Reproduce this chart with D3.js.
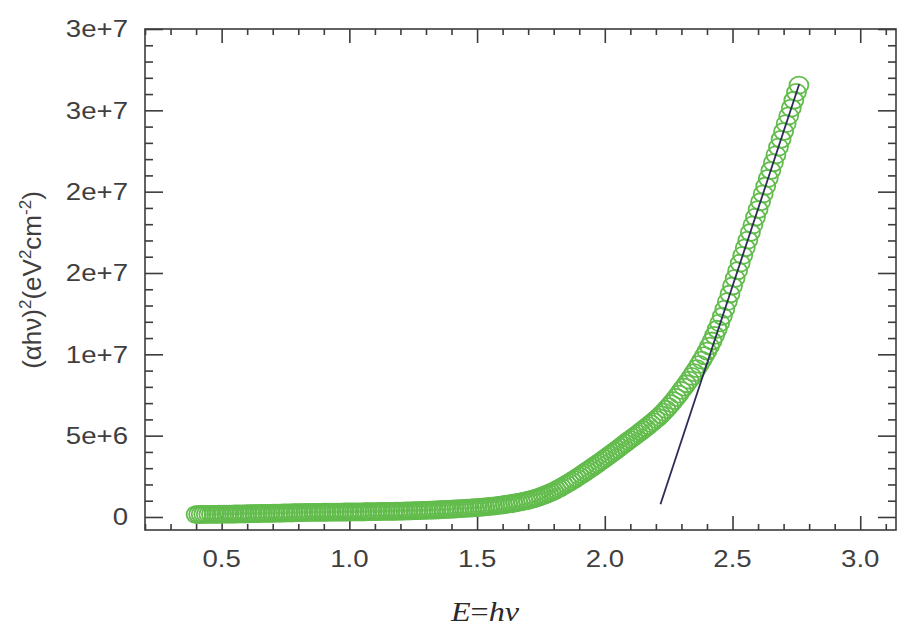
<!DOCTYPE html>
<html>
<head>
<meta charset="utf-8">
<script src="https://cdn.jsdelivr.net/npm/d3@7"></script>
<style>
    body { margin: 0; background: #fff; }
</style>
</head>
<body>
<svg id="chart"></svg>
<script>
// Photon energy grid in eV, one sample every 0.01 eV from 0.40 to 2.76
const energy = d3.range(40, 277).map(i => i / 100);

// (alpha*h*nu)^2, in units of 1e6 eV^2 cm^-2 (one per energy)
const alphaSq = [
    0.150, 0.152, 0.154, 0.156, 0.158, 0.160, 0.162, 0.164, 0.166, 0.168,
    0.170, 0.173, 0.176, 0.179, 0.182, 0.185, 0.188, 0.191, 0.194, 0.197,
    0.200, 0.203, 0.206, 0.209, 0.212, 0.215, 0.218, 0.221, 0.224, 0.227,
    0.230, 0.234, 0.238, 0.242, 0.246, 0.250, 0.254, 0.258, 0.262, 0.266,
    0.270, 0.272, 0.274, 0.276, 0.278, 0.280, 0.282, 0.284, 0.286, 0.288,
    0.290, 0.292, 0.294, 0.296, 0.298, 0.300, 0.302, 0.304, 0.306, 0.308,
    0.310, 0.312, 0.314, 0.316, 0.318, 0.320, 0.322, 0.324, 0.326, 0.328,
    0.330, 0.333, 0.336, 0.339, 0.342, 0.345, 0.348, 0.351, 0.354, 0.357,
    0.360, 0.365, 0.370, 0.375, 0.380, 0.385, 0.390, 0.395, 0.400, 0.405,
    0.410, 0.417, 0.424, 0.431, 0.438, 0.445, 0.452, 0.459, 0.466, 0.473,
    0.480, 0.490, 0.500, 0.510, 0.520, 0.530, 0.540, 0.550, 0.560, 0.570,
    0.580, 0.592, 0.605, 0.619, 0.634, 0.650, 0.667, 0.685, 0.704, 0.724,
    0.745, 0.768, 0.792, 0.817, 0.843, 0.870, 0.898, 0.928, 0.960, 0.993,
    1.029, 1.069, 1.112, 1.159, 1.209, 1.263, 1.321, 1.383, 1.449, 1.519,
    1.593, 1.671, 1.753, 1.838, 1.926, 2.017, 2.111, 2.208, 2.307, 2.408,
    2.511, 2.615, 2.720, 2.826, 2.933, 3.041, 3.150, 3.260, 3.371, 3.483,
    3.596, 3.710, 3.825, 3.941, 4.058, 4.176, 4.295, 4.415, 4.536, 4.658,
    4.773, 4.889, 5.006, 5.124, 5.243, 5.364, 5.487, 5.612, 5.739, 5.868,
    5.998, 6.130, 6.285, 6.445, 6.613, 6.788, 6.968, 7.156, 7.351, 7.556,
    7.780, 7.980, 8.190, 8.410, 8.640, 8.880, 9.125, 9.380, 9.645, 9.915,
    10.20, 10.50, 10.82, 11.17, 11.54, 11.93, 12.34, 12.78, 13.24, 13.71,
    14.20, 14.67, 15.14, 15.61, 16.08, 16.55, 17.02, 17.49, 17.96, 18.43,
    18.90, 19.38, 19.86, 20.34, 20.82, 21.30, 21.78, 22.26, 22.74, 23.22,
    23.70, 24.18, 24.66, 25.14, 25.62, 26.10, 26.55
];

// Linear fit drawn over the steep part, [energy, value]
const fitLine = [[2.218, 0.78], [2.761, 26.6]];

// Tick values and the labels exactly as printed on the original
const xMajor = [0.5, 1.0, 1.5, 2.0, 2.5, 3.0];
const xTickLabels = ["0.5", "1.0", "1.5", "2.0", "2.5", "3.0"];
const yMajor = [0, 5, 10, 15, 20, 25, 30];
const yTickLabels = ["0", "5e+6", "1e+7", "2e+7", "2e+7", "3e+7", "3e+7"];

const width = 903;
const height = 628;
const margin = { top: 29, right: 7, bottom: 98, left: 145 };
const plotW = width - margin.left - margin.right;
const plotH = height - margin.top - margin.bottom;

const axisColour = "#3c3c3c";
const textColour = "#3f3f3f";
const pointColour = "#62bc4c";

const svg = d3.select("#chart")
    .attr("width", width)
    .attr("height", height);

const g = svg.append("g")
    .attr("transform", `translate(${margin.left}, ${margin.top})`);

// Scales
const xScale = d3.scaleLinear().domain([0.2, 3.14]).range([0, plotW]);
const yScale = d3.scaleLinear().domain([-0.8, 30]).range([plotH, 0]);

// Minor ticks every 0.1 eV and every 1e6
const xMinor = d3.range(2, 32).map(i => i / 10).filter(v => !xMajor.some(m => Math.abs(m - v) < 1e-9));
const yMinor = d3.range(0, 30).filter(v => v % 5 !== 0);

// Ticks point inwards on all four sides (frame style)
function tickAxis(axisFn, scale, values, size, transform) {
    const a = g.append("g")
        .attr("transform", transform)
        .call(axisFn(scale).tickValues(values).tickSize(-size).tickFormat(""));
    a.select(".domain").remove();
    a.selectAll("line").attr("stroke", axisColour).attr("stroke-width", 1.6);
    a.selectAll("text").remove();
}

tickAxis(d3.axisBottom, xScale, xMajor, 14, `translate(0, ${plotH})`);
tickAxis(d3.axisBottom, xScale, xMinor, 6, `translate(0, ${plotH})`);
tickAxis(d3.axisTop, xScale, xMajor, 14, "translate(0, 0)");
tickAxis(d3.axisTop, xScale, xMinor, 6, "translate(0, 0)");
tickAxis(d3.axisLeft, yScale, yMajor, 18, "translate(0, 0)");
tickAxis(d3.axisLeft, yScale, yMinor, 8, "translate(0, 0)");
tickAxis(d3.axisRight, yScale, yMajor, 18, `translate(${plotW}, 0)`);
tickAxis(d3.axisRight, yScale, yMinor, 8, `translate(${plotW}, 0)`);

// Frame
g.append("rect")
    .attr("x", 0)
    .attr("y", 0)
    .attr("width", plotW)
    .attr("height", plotH)
    .attr("fill", "none")
    .attr("stroke", axisColour)
    .attr("stroke-width", 1.6);

// Tick labels (the original is slightly stretched sideways)
const stretch = 1.2;

g.selectAll("text.xTick")
    .data(xMajor)
    .join("text")
    .attr("class", "xTick")
    .attr("transform", d => `translate(${xScale(d)}, ${plotH + 37}) scale(${stretch}, 1)`)
    .attr("text-anchor", "middle")
    .style("font-family", "'Liberation Sans', Arial, sans-serif")
    .style("font-size", "23px")
    .attr("fill", textColour)
    .text((d, i) => xTickLabels[i]);

g.selectAll("text.yTick")
    .data(yMajor)
    .join("text")
    .attr("class", "yTick")
    .attr("transform", d => `translate(-17, ${yScale(d)}) scale(${stretch}, 1)`)
    .attr("text-anchor", "end")
    .attr("dy", "0.36em")
    .style("font-family", "'Liberation Sans', Arial, sans-serif")
    .style("font-size", "23px")
    .attr("fill", textColour)
    .text((d, i) => yTickLabels[i]);

// Data points: open circles (a little wider than tall, like the original)
const points = energy.map((e, i) => [e, alphaSq[i]]);

g.append("g")
    .selectAll("ellipse")
    .data(points)
    .join("ellipse")
    .attr("cx", d => xScale(d[0]))
    .attr("cy", d => yScale(d[1]))
    .attr("rx", 9.5)
    .attr("ry", 8.5)
    .attr("fill", "none")
    .attr("stroke", pointColour)
    .attr("stroke-width", 1.8);

// Fit line
const lineGenerator = d3.line()
    .x(d => xScale(d[0]))
    .y(d => yScale(d[1]));

g.append("path")
    .datum(fitLine)
    .attr("d", lineGenerator)
    .attr("fill", "none")
    .attr("stroke", "#2c2c58")
    .attr("stroke-width", 1.8);

// Y axis title, rotated
const yTitle = svg.append("text")
    .attr("transform", "translate(41, 280) rotate(-90)")
    .attr("text-anchor", "middle")
    .style("font-family", "'Liberation Sans', Arial, sans-serif")
    .style("font-size", "26px")
    .attr("fill", textColour);

const yTitleParts = [
    { t: "(αhν)", sup: false },
    { t: "2", sup: true },
    { t: "(eV", sup: false },
    { t: "2", sup: true },
    { t: "cm", sup: false },
    { t: "-2", sup: true },
    { t: ")", sup: false },
];
let raised = false;
yTitleParts.forEach(p => {
    const span = yTitle.append("tspan").text(p.t);
    if (p.sup) span.style("font-size", "17px");
    if (p.sup && !raised) { span.attr("dy", -10); raised = true; }
    else if (!p.sup && raised) { span.attr("dy", 10); raised = false; }
});

// X axis title, italic serif
const xTitle = svg.append("text")
    .attr("transform", `translate(485, 621) scale(1.15, 1)`)
    .attr("text-anchor", "middle")
    .style("font-family", "'Liberation Serif', 'Times New Roman', serif")
    .style("font-size", "28px")
    .attr("fill", "#2a2a2a");
xTitle.append("tspan").style("font-style", "italic").text("E");
xTitle.append("tspan").text("=");
xTitle.append("tspan").style("font-style", "italic").text("hν");
</script>
</body>
</html>
